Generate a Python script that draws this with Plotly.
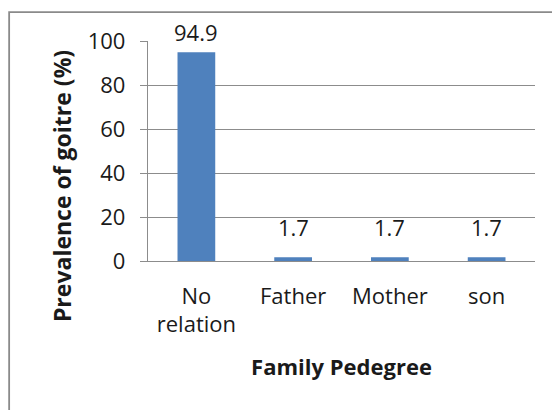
import plotly.graph_objects as go

categories = ["No<br>relation", "Father", "Mother", "son"]
values = [94.9, 1.7, 1.7, 1.7]
labels = ["94.9", "1.7", "1.7", "1.7"]
y_ticks = [0, 20, 40, 60, 80, 100]
x_title = "Family Pedegree"
y_title = "Prevalence of goitre (%)"

FONT = "Open Sans"
GRID = "#8c8c8c"

fig = go.Figure()
fig.add_trace(go.Bar(
    x=categories, y=values, width=0.39,
    marker=dict(color="#4F81BD", line=dict(width=0)),
    hoverinfo="skip",
))

for c, v, t in zip(categories, values, labels):
    fig.add_annotation(
        x=c, y=v, text=t, showarrow=False, yanchor="bottom",
        yshift=(3 if v > 90 else 13),
        font=dict(family=FONT, size=22, color="#1a1a1a"),
    )

fig.add_annotation(
    xref="paper", yref="paper", x=-0.224, y=0.342,
    text="<b>" + y_title + "</b>", textangle=-90, showarrow=False,
    xanchor="center", yanchor="middle",
    font=dict(family=FONT, size=23, color="#1a1a1a"),
)

fig.add_shape(
    type="rect", xref="paper", yref="paper",
    x0=-0.3588, x1=1.5, y0=-1.0, y1=1.131,
    line=dict(color="#8a8a8a", width=1.8), fillcolor="rgba(0,0,0,0)",
)

fig.update_layout(
    width=560, height=410,
    margin=dict(l=140, r=33, t=33, b=157),
    paper_bgcolor="white", plot_bgcolor="white",
    showlegend=False,
    font=dict(family=FONT, size=22, color="#1a1a1a"),
)
fig.update_xaxes(
    showline=True, linecolor=GRID, linewidth=1.3,
    ticks="", showgrid=False, automargin=False,
    tickfont=dict(family=FONT, size=22),
    ticklabelstandoff=15,
    title=dict(text="<b>" + x_title + "</b>", font=dict(family=FONT, size=22), standoff=22),
)
fig.update_yaxes(
    range=[0, 100], tickvals=y_ticks,
    showline=True, linecolor=GRID, linewidth=1.3,
    ticks="outside", ticklen=7, tickcolor=GRID, tickwidth=1.3,
    showgrid=True, gridcolor=GRID, gridwidth=1.3,
    zeroline=False, automargin=False,
    tickfont=dict(family=FONT, size=22),
    ticklabelstandoff=10,
)

fig.write_html("out.html")
